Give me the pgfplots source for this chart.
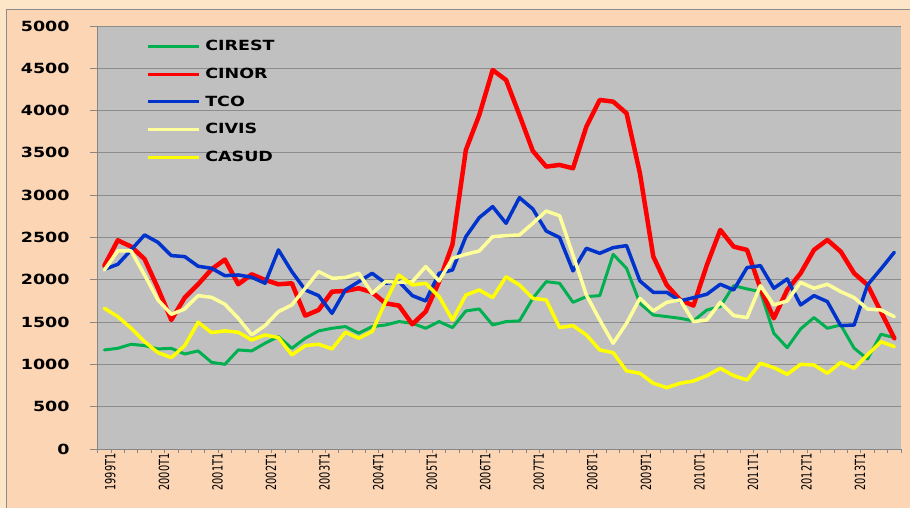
\documentclass[border=0pt]{standalone}
\usepackage{fontspec}
\usepackage{pgfplots}
\usepackage{pgfplotstable}
\pgfplotsset{compat=1.18}
\newfontfamily\lbfont[FakeStretch=1.25]{DejaVu Sans Bold}
\newfontfamily\xfont[FakeStretch=0.7]{DejaVu Sans}
\definecolor{outerbg}{HTML}{FDE6C8}
\definecolor{peach}{HTML}{FCD5B4}
\definecolor{plotgrey}{HTML}{C0C0C0}
\definecolor{gridgrey}{HTML}{8C8C8C}
\definecolor{axisgrey}{HTML}{868686}
\definecolor{cgreen}{HTML}{00B050}
\definecolor{cred}{HTML}{FF0000}
\definecolor{cblue}{HTML}{0033CC}
\definecolor{clyel}{HTML}{FFFF99}
\definecolor{cyel}{HTML}{FFFF00}
\pgfplotstableread{
idx cirest cinor tco civis casud
0 1171 2168 2124 2116 1663
1 1190 2467 2183 2341 1565
2 1238 2392 2353 2341 1427
3 1222 2246 2530 2057 1269
4 1183 1900 2443 1762 1139
5 1190 1525 2286 1592 1080
6 1123 1789 2274 1655 1222
7 1159 1947 2160 1813 1498
8 1025 2124 2136 1793 1376
9 1001 2239 2049 1711 1396
10 1171 1947 2057 1545 1380
11 1159 2065 2030 1349 1289
12 1250 1998 1959 1459 1348
13 1329 1947 2353 1624 1317
14 1190 1959 2097 1703 1112
15 1309 1576 1880 1900 1222
16 1396 1643 1813 2097 1238
17 1427 1860 1604 2018 1183
18 1447 1868 1880 2026 1380
19 1368 1900 1978 2077 1309
20 1447 1852 2077 1840 1388
21 1466 1722 1959 1978 1742
22 1506 1695 1978 1970 2057
23 1486 1474 1813 1978 1939
24 1427 1624 1750 2156 1959
25 1506 1978 2077 1986 1801
26 1435 2419 2116 2254 1525
27 1632 3535 2510 2301 1820
28 1655 3948 2735 2341 1880
29 1466 4480 2865 2510 1789
30 1506 4362 2668 2522 2036
31 1514 3948 2971 2530 1939
32 1781 3523 2837 2668 1781
33 1978 3338 2577 2813 1762
34 1959 3358 2499 2758 1435
35 1734 3318 2105 2293 1459
36 1801 3811 2372 1820 1348
37 1813 4126 2313 1525 1171
38 2301 4106 2380 1249 1139
39 2136 3968 2404 1486 923
40 1722 3259 1986 1781 895
41 1584 2274 1852 1632 777
42 1565 1939 1852 1734 725
43 1545 1762 1750 1762 777
44 1514 1695 1789 1506 804
45 1643 2175 1829 1525 867
46 1683 2589 1947 1734 954
47 1931 2392 1880 1577 867
48 1892 2353 2144 1553 816
49 1860 1900 2167 1931 1013
50 1368 1545 1900 1703 962
51 1198 1880 2010 1750 883
52 1419 2077 1703 1970 1001
53 1553 2353 1813 1900 993
54 1427 2471 1742 1947 895
55 1466 2333 1458 1860 1025
56 1191 2077 1466 1789 954
57 1064 1939 1939 1655 1112
58 1356 1624 2128 1643 1269
59 1317 1309 2325 1565 1210
}\datatable
\begin{document}
\begin{tikzpicture}
\useasboundingbox (0pt,0pt) rectangle (910pt,508pt);
\fill[outerbg] (0pt,0pt) rectangle (910pt,508pt);
\fill[peach] (6pt,0pt) rectangle (910pt,498.5pt);
\draw[gridgrey, line width=0.8pt] (6pt,0pt) -- (6pt,498.5pt) -- (910pt,498.5pt);
\begin{axis}[
  at={(97.7pt,59pt)}, anchor=south west,
  scale only axis, width=803.3pt, height=423pt,
  xmin=-0.5, xmax=59.5, ymin=0, ymax=5000,
  axis background/.style={fill=plotgrey},
  axis lines*=left,
  axis line style={draw=axisgrey, line width=0.8pt, -},
  tick align=outside,
  tick style={axisgrey, line width=0.8pt},
  ytick={0,500,...,5000},
  ytick style={/pgfplots/major tick length=8pt},
  ymajorgrids, grid style={gridgrey, line width=0.8pt},
  scaled y ticks=false,
  /pgf/number format/1000 sep={},
  /pgf/number format/assume math mode=true,
  yticklabel style={font=\lbfont\fontsize{14}{16}\selectfont, anchor=east, inner sep=0pt, xshift=-23.7pt},
  xtick={0,4,...,56},
  xticklabels={1999T1,2000T1,2001T1,2002T1,2003T1,2004T1,2005T1,2006T1,2007T1,2008T1,2009T1,2010T1,2011T1,2012T1,2013T1},
  minor xtick={-0.5,0.5,...,59.5},
  xtick style={/pgfplots/major tick length=0pt, /pgfplots/minor tick length=4pt},
  xticklabel style={font=\xfont\fontsize{14}{16}\selectfont, rotate=90, anchor=east, inner sep=0pt, yshift=-6pt},
  legend image code/.code={\draw[#1, line width=3pt, line cap=butt] (0pt,0pt) -- (51pt,0pt);},
  legend style={draw=none, fill=none, at={(axis description cs:0.0565,0.971)}, anchor=north west,
    font=\lbfont\fontsize{14}{16}\selectfont, row sep=15.8pt, column sep=5pt,
    nodes={inner sep=0pt, anchor=west}},
  legend cell align=left,
  every axis plot/.append style={line join=round, line cap=round},
]
\addplot[cgreen, line width=3pt] table[x=idx, y=cirest] {\datatable};
\addlegendentry{CIREST}
\addplot[cred, line width=4.5pt] table[x=idx, y=cinor] {\datatable};
\addlegendentry{CINOR}
\addplot[cblue, line width=3.5pt] table[x=idx, y=tco] {\datatable};
\addlegendentry{TCO}
\addplot[clyel, line width=3.5pt] table[x=idx, y=civis] {\datatable};
\addlegendentry{CIVIS}
\addplot[cyel, line width=3.5pt] table[x=idx, y=casud] {\datatable};
\addlegendentry{CASUD}
\end{axis}
\end{tikzpicture}
\end{document}
